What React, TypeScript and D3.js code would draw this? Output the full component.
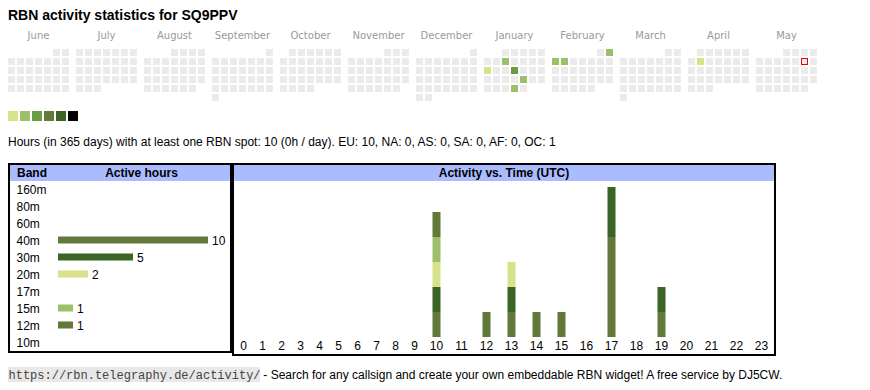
import * as d3 from "d3";

const title = "RBN activity statistics for SQ9PPV";
const months = ["June", "July", "August", "September", "October", "November", "December", "January", "February", "March", "April", "May"];
const firstMonth = new Date(2024, 5, 1);
const todayStr = "2025-05-10";
// days with activity and their colour level (1..6)
const activeDates = ["2025-01-08", "2025-01-13", "2025-01-16", "2025-01-24", "2025-01-30", "2025-02-02", "2025-02-03", "2025-02-04", "2025-04-08"];
const activeLevels = [2, 1, 3, 2, 2, 2, 2, 2, 1];
const levelColors = ["#dae289", "#9cc069", "#669d45", "#637939", "#3b6427", "#000000"];

const summary = "Hours (in 365 days) with at least one RBN spot: 10 (0h / day). EU: 10, NA: 0, AS: 0, SA: 0, AF: 0, OC: 1";

const bands = ["160m", "80m", "60m", "40m", "30m", "20m", "17m", "15m", "12m", "10m"];
const bandHours = [0, 0, 0, 10, 5, 2, 0, 1, 1, 0];
const bandColors = ["#3b6427", "#9cc069", "#dae289", "#637939", "#3b6427", "#dae289", "#669d45", "#9cc069", "#637939", "#669d45"];

const hours = d3.range(24).map(String);
const hourly40m = [0, 0, 0, 0, 0, 0, 0, 0, 0, 0, 1, 0, 1, 1, 1, 1, 0, 4, 0, 1, 0, 0, 0, 0];
const hourly30m = [0, 0, 0, 0, 0, 0, 0, 0, 0, 0, 1, 0, 0, 1, 0, 0, 0, 2, 0, 1, 0, 0, 0, 0];
const hourly20m = [0, 0, 0, 0, 0, 0, 0, 0, 0, 0, 1, 0, 0, 1, 0, 0, 0, 0, 0, 0, 0, 0, 0, 0];
const hourly15m = [0, 0, 0, 0, 0, 0, 0, 0, 0, 0, 1, 0, 0, 0, 0, 0, 0, 0, 0, 0, 0, 0, 0, 0];
const hourly12m = [0, 0, 0, 0, 0, 0, 0, 0, 0, 0, 1, 0, 0, 0, 0, 0, 0, 0, 0, 0, 0, 0, 0, 0];

const footerUrl = "https://rbn.telegraphy.de/activity/";
const footerText = " - Search for any callsign and create your own embeddable RBN widget! A free service by DJ5CW.";

const sans = "'Liberation Sans', Arial, sans-serif";
const fmt = d3.timeFormat("%Y-%m-%d");

export default function App() {
  // calendar
  const monthX = d3.scaleBand().domain(months).range([8, 8 + 68 * 12]);
  const cell = 7;
  const pitch = 9;
  const levelByDate = new Map(activeDates.map((d, i) => [d, activeLevels[i]]));
  const calCells: { x: number; y: number; key: string; level: number }[] = [];
  months.forEach((m, i) => {
    const start = d3.timeMonth.offset(firstMonth, i);
    const off = (start.getDay() + 6) % 7;
    d3.timeDay.range(start, d3.timeMonth.offset(start, 1)).forEach((day) => {
      const idx = day.getDate() - 1 + off;
      calCells.push({
        x: (monthX(m) as number) + (idx % 7) * pitch,
        y: 49 + Math.floor(idx / 7) * pitch,
        key: fmt(day),
        level: levelByDate.get(fmt(day)) || 0,
      });
    });
  });

  // band table
  const bandY = d3.scalePoint().domain(bands).range([189, 189 + 17 * 9]);
  const bandX = d3.scaleLinear().domain([0, d3.max(bandHours) as number]).range([58, 208]);

  // hourly stacked chart
  const series: Record<string, number[]> = { "40m": hourly40m, "30m": hourly30m, "20m": hourly20m, "15m": hourly15m, "12m": hourly12m };
  const rows = hours.map((h, i) => {
    const r: Record<string, number> = {};
    bands.forEach((b) => (r[b] = series[b] ? series[b][i] : 0));
    return r;
  });
  const stacked = d3.stack<Record<string, number>>().keys(bands)(rows);
  const colW = hours.map((h) => 13 + 6 * h.length);
  const colStart = d3.cumsum([0, ...colW]);
  const hourX = d3.scaleOrdinal<string, number>().domain(hours).range(hours.map((h, i) => 234 + colStart[i] + colW[i] / 2));
  const maxTotal = d3.max(rows, (r) => d3.sum(bands, (b) => r[b])) as number;
  const y = d3.scaleLinear().domain([0, maxTotal]).range([337, 187]);

  return (
    <svg width={870} height={390} style={{ position: "absolute", left: 0, top: 0, background: "#fff" }} fontFamily={sans}>
      <text x={8} y={20} fontSize={14} fontWeight="bold" fill="#000">{title}</text>

      {months.map((m) => (
        <text key={m} x={(monthX(m) as number) + 30.5} y={39} fontSize={10} fontFamily="'DejaVu Sans', sans-serif" fill="#999" textAnchor="middle">{m}</text>
      ))}
      {calCells.map((c) => (
        <rect key={c.key} x={c.key === todayStr ? c.x + 0.5 : c.x} y={c.key === todayStr ? c.y + 0.5 : c.y}
          width={c.key === todayStr ? cell - 1 : cell} height={c.key === todayStr ? cell - 1 : cell}
          fill={c.level ? levelColors[c.level - 1] : "#ebebeb"}
          stroke={c.key === todayStr ? "#e00" : "none"} strokeWidth={1} />
      ))}

      {levelColors.map((c, i) => (
        <rect key={c} x={8 + i * 12} y={111} width={10} height={10} fill={c} />
      ))}

      <text x={8} y={146} fontSize={12} fill="#000">{summary}</text>

      {/* band table */}
      <rect x={10} y={165} width={220} height={16} fill="#abbcfe" />
      <rect x={9} y={164} width={222} height={188} fill="none" stroke="#000" strokeWidth={2} />
      <text x={17} y={177} fontSize={12} fontWeight="bold">Band</text>
      <text x={141.5} y={177} fontSize={12} fontWeight="bold" textAnchor="middle">Active hours</text>
      {bands.map((b, i) => (
        <g key={b}>
          <text x={16.5} y={(bandY(b) as number) + 4.5} fontSize={12}>{b}</text>
          {bandHours[i] > 0 && (
            <>
              <rect x={bandX(0)} y={(bandY(b) as number) - 3.5} width={bandX(bandHours[i]) - bandX(0)} height={7} fill={bandColors[i]} />
              <text x={bandX(bandHours[i]) + 4} y={(bandY(b) as number) + 4.5} fontSize={12}>{bandHours[i]}</text>
            </>
          )}
        </g>
      ))}

      {/* activity vs time */}
      <rect x={234} y={165} width={540} height={16} fill="#abbcfe" />
      <rect x={233} y={164} width={542} height={191} fill="none" stroke="#000" strokeWidth={2} />
      <text x={504} y={177} fontSize={12} fontWeight="bold" textAnchor="middle">Activity vs. Time (UTC)</text>
      {stacked.map((s) => {
        const bi = bands.indexOf(s.key);
        return s.map((d, i) =>
          d[1] > d[0] ? (
            <rect key={s.key + i} x={hourX(hours[i]) - 4} y={y(d[1])} width={8} height={y(d[0]) - y(d[1])} fill={bandColors[bi]} />
          ) : null
        );
      })}
      {hours.map((h) => (
        <text key={h} x={hourX(h)} y={350} fontSize={12} textAnchor="middle">{h}</text>
      ))}

      {/* footer */}
      <rect x={8} y={367} width={252} height={15} fill="#e8e8e8" />
      <text x={8.5} y={378.5} fontSize={12} fontFamily="'Liberation Mono', monospace" fill="#444">{footerUrl}</text>
      <text x={260} y={378.5} fontSize={12} fill="#000" style={{ whiteSpace: "pre" }}>{footerText}</text>
    </svg>
  );
}
